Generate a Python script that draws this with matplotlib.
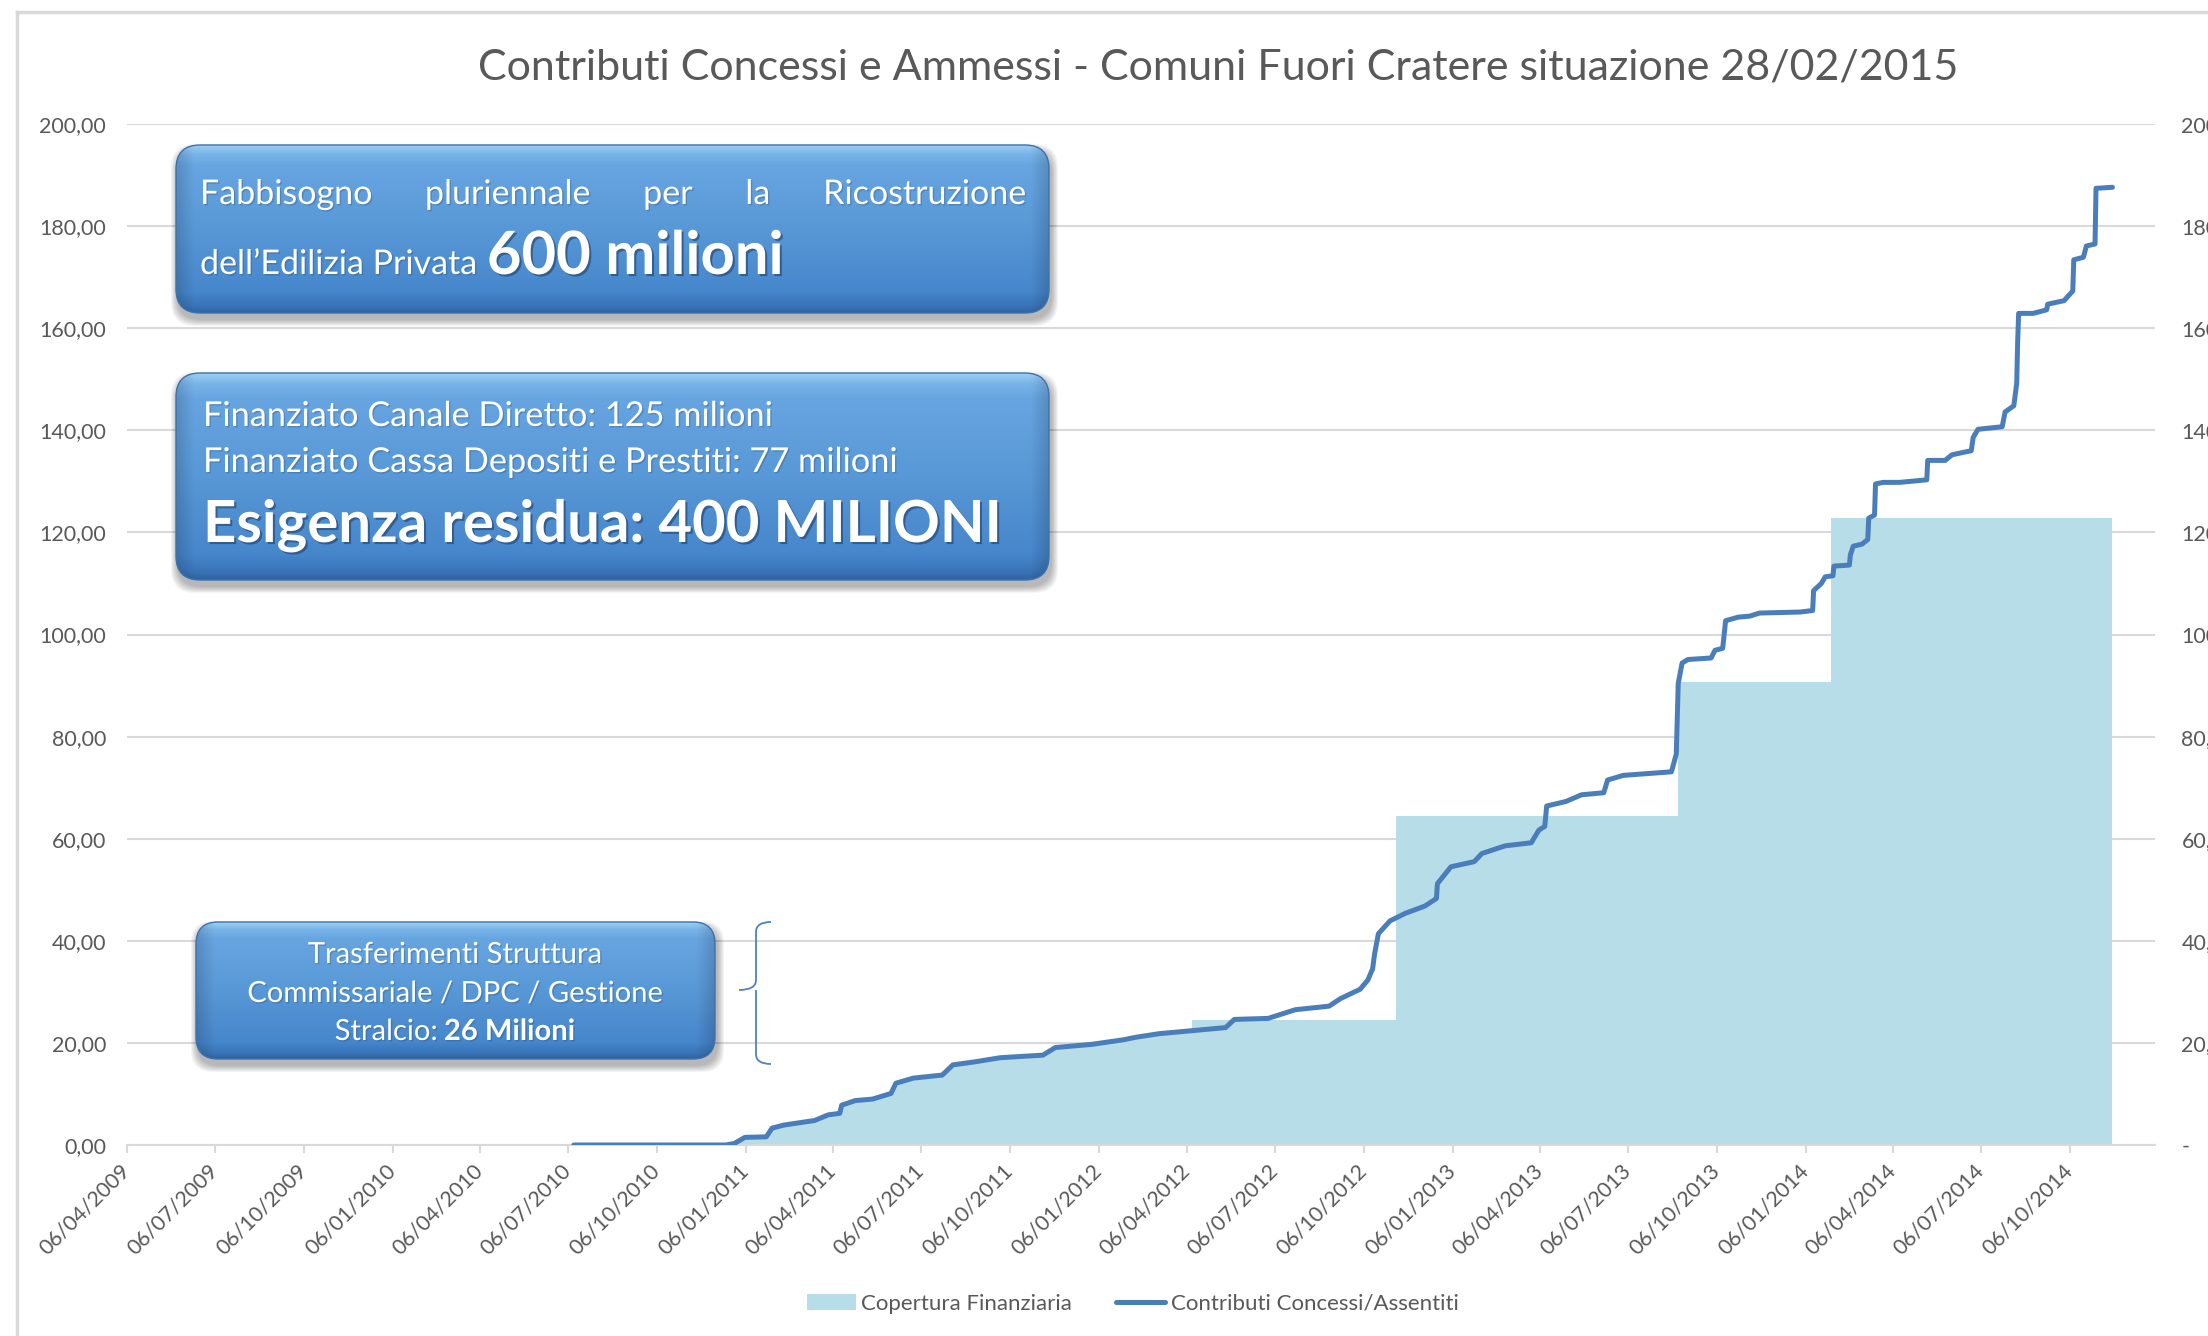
import numpy as np
import pandas as pd
import matplotlib
matplotlib.use("Agg")
import matplotlib.pyplot as plt
import matplotlib.dates as mdates
import matplotlib.patheffects as pe
from matplotlib.patches import FancyBboxPatch, PathPatch
from matplotlib.path import Path
from matplotlib.colors import LinearSegmentedColormap
from matplotlib.lines import Line2D

plt.rcParams['font.family'] = ['Lato', 'DejaVu Sans']

# contributi concessi / assentiti (milioni di euro), cumulati
contrib_dates = [
    '2010-07-12', '2010-12-16', '2010-12-25', '2011-01-05', '2011-01-27', '2011-02-02',
    '2011-02-14', '2011-03-18', '2011-04-01', '2011-04-13', '2011-04-15', '2011-04-29',
    '2011-05-17', '2011-06-05', '2011-06-10', '2011-06-28', '2011-07-28', '2011-08-08',
    '2011-08-31', '2011-09-26', '2011-11-09', '2011-11-22', '2011-12-29', '2012-01-31',
    '2012-02-13', '2012-03-08', '2012-03-31', '2012-05-16', '2012-05-25', '2012-06-29',
    '2012-07-27', '2012-08-31', '2012-09-12', '2012-10-02', '2012-10-10', '2012-10-15',
    '2012-10-17', '2012-10-21', '2012-11-02', '2012-11-18', '2012-12-08', '2012-12-20',
    '2012-12-21', '2013-01-04', '2013-01-28', '2013-02-05', '2013-03-01', '2013-03-28',
    '2013-04-05', '2013-04-11', '2013-04-13', '2013-05-03', '2013-05-19', '2013-06-11',
    '2013-06-15', '2013-07-01', '2013-08-20', '2013-08-25', '2013-08-27', '2013-08-31',
    '2013-09-06', '2013-09-30', '2013-10-04', '2013-10-12', '2013-10-15', '2013-10-28',
    '2013-11-09', '2013-11-19', '2013-12-31', '2014-01-13', '2014-01-14', '2014-01-22',
    '2014-01-26', '2014-02-03', '2014-02-04', '2014-02-20', '2014-02-21', '2014-02-24',
    '2014-03-05', '2014-03-11', '2014-03-12', '2014-03-18', '2014-03-19', '2014-03-27',
    '2014-04-13', '2014-05-11', '2014-05-12', '2014-05-30', '2014-06-06', '2014-06-26',
    '2014-06-28', '2014-07-03', '2014-07-28', '2014-07-31', '2014-08-09', '2014-08-12',
    '2014-08-13', '2014-08-14', '2014-08-29', '2014-09-12', '2014-09-13', '2014-09-30',
    '2014-10-09', '2014-10-10', '2014-10-20', '2014-10-23', '2014-11-01', '2014-11-02',
    '2014-11-19',
]
contrib_values = [
    0.0, 0.0, 0.3, 1.5, 1.6, 3.3,
    3.9, 4.8, 5.9, 6.2, 7.8, 8.7,
    9.0, 10.1, 12.1, 13.1, 13.7, 15.7,
    16.3, 17.1, 17.6, 19.1, 19.7, 20.6,
    21.1, 21.8, 22.2, 23.0, 24.6, 24.8,
    26.5, 27.2, 28.7, 30.5, 32.3, 34.5,
    37.4, 41.4, 43.9, 45.4, 46.8, 48.3,
    51.2, 54.5, 55.5, 57.1, 58.6, 59.2,
    61.7, 62.4, 66.4, 67.3, 68.6, 69.0,
    71.5, 72.4, 73.1, 76.6, 90.4, 94.4,
    95.1, 95.4, 96.9, 97.3, 102.7, 103.4,
    103.6, 104.2, 104.4, 104.7, 108.6, 110.0,
    111.3, 111.5, 113.4, 113.6, 115.6, 117.3,
    117.7, 118.6, 122.8, 123.4, 129.5, 129.8,
    129.8, 130.3, 134.1, 134.1, 135.2, 136.0,
    138.6, 140.2, 140.7, 143.6, 144.8, 149.2,
    157.4, 162.9, 162.9, 163.6, 164.7, 165.4,
    167.3, 173.4, 173.9, 176.1, 176.5, 187.4,
    187.6,
]

# copertura finanziaria: fino alla prima tranche coincide con i contributi,
# poi gradini (date di inizio di ogni livello, ultima data = fine serie)
cover_follow_until = '2012-04-11'
cover_dates = ['2012-04-11', '2012-11-08', '2013-08-27', '2014-02-01', '2014-11-19']
cover_values = [24.4, 64.5, 90.6, 122.8]

tick_start, tick_end = '2009-04-06', '2014-10-06'
x_min, x_max = '2009-04-06', '2015-01-02'

title = 'Contributi Concessi e Ammessi - Comuni Fuori Cratere situazione 28/02/2015'

GRID = '#D9D9D9'
TXT = '#595959'
LINE_C = '#4A7EBB'
FILL_C = '#B7DDE8'

W, H = 2208, 1336
fig = plt.figure(figsize=(W / 100, H / 100), dpi=100)
fig.patch.set_facecolor('white')

ax = fig.add_axes([127 / W, 1 - 1145 / H, (2155 - 127) / W, (1145 - 124) / H])
ax.set_facecolor('none')

cd = pd.to_datetime(contrib_dates)
cv = np.array(contrib_values)

# area sotto la curva fino alla prima tranche
follow = pd.Timestamp(cover_follow_until)
mask = cd <= follow
x_early = list(cd[mask]) + [follow]
y_early = list(cv[mask]) + [np.interp(mdates.date2num(follow), mdates.date2num(cd), cv)]
ax.fill_between(x_early, 0, y_early, color=FILL_C, lw=0, zorder=2)

# gradini della copertura
xd = pd.to_datetime(cover_dates)
yv = list(cover_values) + [cover_values[-1]]
area = ax.fill_between(xd, 0, yv, step='post', color=FILL_C, lw=0, zorder=2,
                       label='Copertura Finanziaria')

line, = ax.plot(cd, cv, color=LINE_C, lw=3.6, solid_capstyle='round',
                solid_joinstyle='round', zorder=4, label='Contributi Concessi/Assentiti')

ax.set_ylim(0, 200)
ax.set_xlim(pd.Timestamp(x_min), pd.Timestamp(x_max))
yt = np.arange(0, 201, 20)
ax.set_yticks(yt)
ax.set_yticklabels([f'{v:.2f}'.replace('.', ',') for v in yt])
ax.yaxis.grid(True, color=GRID, lw=1.5)
ax.set_axisbelow(True)
ax.tick_params(axis='y', length=0, pad=15, labelsize=15.5, labelcolor=TXT)

xt = pd.date_range(tick_start, tick_end, freq=pd.DateOffset(months=3))
ax.set_xticks(xt)
ax.set_xticklabels([d.strftime('%d/%m/%Y') for d in xt])
ax.tick_params(axis='x', length=6, width=1.5, color=GRID, pad=10,
               labelsize=15.5, labelcolor=TXT)
for lab in ax.get_xticklabels():
    lab.set_rotation(45)
    lab.set_rotation_mode('anchor')
    lab.set_ha('right')
    lab.set_va('center')

for s in ['top', 'right', 'left']:
    ax.spines[s].set_visible(False)
ax.spines['bottom'].set_color(GRID)
ax.spines['bottom'].set_linewidth(1.5)

# asse secondario (etichette a destra, tagliate dal bordo)
ax2 = ax.twinx()
ax2.set_ylim(0, 200)
ax2.set_yticks(yt)
ax2.set_yticklabels(['-'] + [f'{v:.2f}'.replace('.', ',') for v in yt[1:]])
ax2.tick_params(axis='y', length=0, pad=19, labelsize=15.5, labelcolor=TXT)
for s in ax2.spines.values():
    s.set_visible(False)

fig.text(1218 / W, 1 - 68 / H, title, ha='center', va='center',
         fontsize=31, color=TXT)

fig.legend([area, line], ['Copertura Finanziaria', 'Contributi Concessi/Assentiti'],
           loc='center', bbox_to_anchor=(0.513, 1 - 1304 / H), ncol=2, frameon=False,
           fontsize=16, labelcolor=TXT, handlelength=2.2, handletextpad=0.25,
           columnspacing=2.0)

# livello in pixel per riquadri, graffa e bordo
ov = fig.add_axes([0, 0, 1, 1], zorder=10)
ov.set_facecolor('none')
ov.axis('off')

ov.add_line(Line2D([17, W], [12, 12], color=GRID, lw=2.5))
ov.add_line(Line2D([17, 17], [12, H], color=GRID, lw=2.5))

box_cmap = LinearSegmentedColormap.from_list('box', [
    (0.00, '#9ACCF2'), (0.05, '#78B4E9'), (0.12, '#67A5E1'), (0.50, '#5898D6'),
    (0.88, '#4686CB'), (0.96, '#3A74B8'), (1.00, '#2F64A3')])


def draw_box(x0, y0, x1, y1, r=24):
    w, h = x1 - x0, y1 - y0
    for k in range(1, 8):
        sh = FancyBboxPatch((x0 + 2, y0 + 6), w, h,
                            boxstyle=f'round,pad={k},rounding_size={r}',
                            fc='black', ec='none', alpha=0.045, zorder=1)
        ov.add_patch(sh)
    patch = FancyBboxPatch((x0, y0), w, h, boxstyle=f'round,pad=0,rounding_size={r}',
                           fc='none', ec='#3C72AE', lw=1.0, zorder=3)
    ov.add_patch(patch)
    t = np.linspace(0, 1, int(h))
    rgba = box_cmap(t)[:, None, :].repeat(int(w), axis=1)
    xs = np.arange(int(w))
    edge = np.minimum(xs, xs[::-1]).astype(float)
    shade = 0.85 + 0.15 * np.clip(edge / 18.0, 0, 1)
    rgba[:, :, :3] *= shade[None, :, None]
    im = ov.imshow(rgba, extent=(x0, x1, y1, y0), origin='upper',
                   aspect='auto', zorder=2, interpolation='bilinear')
    im.set_clip_path(patch)


def text_w(t):
    r = fig.canvas.get_renderer()
    return t.get_window_extent(r).width


shadow = [pe.SimplePatchShadow(offset=(1.5, -1.5), shadow_rgbFace='#1B3A60', alpha=0.55),
          pe.Normal()]
soft = [pe.SimplePatchShadow(offset=(1, -1), shadow_rgbFace='#1B3A60', alpha=0.25),
        pe.Normal()]


def justify(words, xl, xr, y, **kw):
    ts = [ov.text(xl, y, wd, ha='left', va='baseline', zorder=5, **kw) for wd in words]
    ws = [text_w(t) for t in ts]
    gap = (xr - xl - sum(ws)) / (len(ws) - 1)
    x = xl
    for t, wd in zip(ts, ws):
        t.set_x(x)
        x += wd + gap


def runs(parts, x, y, ha='left', gap=7):
    ts = [ov.text(0, y, s, ha='left', va='baseline', zorder=5, **kw) for s, kw in parts]
    ws = [text_w(t) for t in ts]
    total = sum(ws) + gap * (len(ws) - 1)
    xs = x - total / 2 if ha == 'center' else x
    for t, wd in zip(ts, ws):
        t.set_x(xs)
        xs += wd + gap


draw_box(176, 145, 1049, 313)
draw_box(176, 373, 1049, 580)
draw_box(196, 922, 715, 1059, r=22)

reg = dict(color='white', path_effects=soft)
justify(['Fabbisogno', 'pluriennale', 'per', 'la', 'Ricostruzione'], 200, 1026, 204,
        fontsize=24.5, **reg)
runs([('dell\u2019Edilizia Privata', dict(fontsize=24.5, **reg)),
      ('600 milioni', dict(fontsize=43, fontweight='bold', color='white',
                           path_effects=shadow))], 200, 274, gap=10)

ov.text(203, 426, 'Finanziato Canale Diretto: 125 milioni', fontsize=24.7,
        ha='left', va='baseline', zorder=5, **reg)
ov.text(203, 472, 'Finanziato Cassa Depositi e Prestiti: 77 milioni', fontsize=24.7,
        ha='left', va='baseline', zorder=5, **reg)
ov.text(203, 542, 'Esigenza residua: 400 MILIONI', fontsize=41.8, fontweight='bold',
        color='white', ha='left', va='baseline', zorder=5, path_effects=shadow)

ov.text(455, 963, 'Trasferimenti Struttura', fontsize=21, ha='center',
        va='baseline', zorder=5, **reg)
ov.text(455, 1002, 'Commissariale / DPC / Gestione', fontsize=21, ha='center',
        va='baseline', zorder=5, **reg)
runs([('Stralcio:', dict(fontsize=21, **reg)),
      ('26 Milioni', dict(fontsize=21, fontweight='bold', **reg))], 455, 1040,
     ha='center', gap=6)

# graffa
bx, tip_x, hook_x = 756, 739, 771
yt0, ym, yb = 922, 990, 1064
verts = [(hook_x, yt0), (bx, yt0), (bx, yt0 + 10), (bx, ym - 10), (bx, ym), (tip_x, ym),
         (bx, ym), (bx, ym + 10), (bx, yb - 10), (bx, yb), (hook_x, yb)]
codes = [Path.MOVETO, Path.CURVE3, Path.CURVE3, Path.LINETO, Path.CURVE3, Path.CURVE3,
         Path.MOVETO, Path.CURVE3, Path.LINETO, Path.CURVE3, Path.CURVE3]
ov.add_patch(PathPatch(Path(verts, codes), fc='none', ec='#4F81BD', lw=1.3, zorder=5))

ov.set_xlim(0, W)
ov.set_ylim(H, 0)

fig.savefig('out.png', dpi=100, facecolor='white')
